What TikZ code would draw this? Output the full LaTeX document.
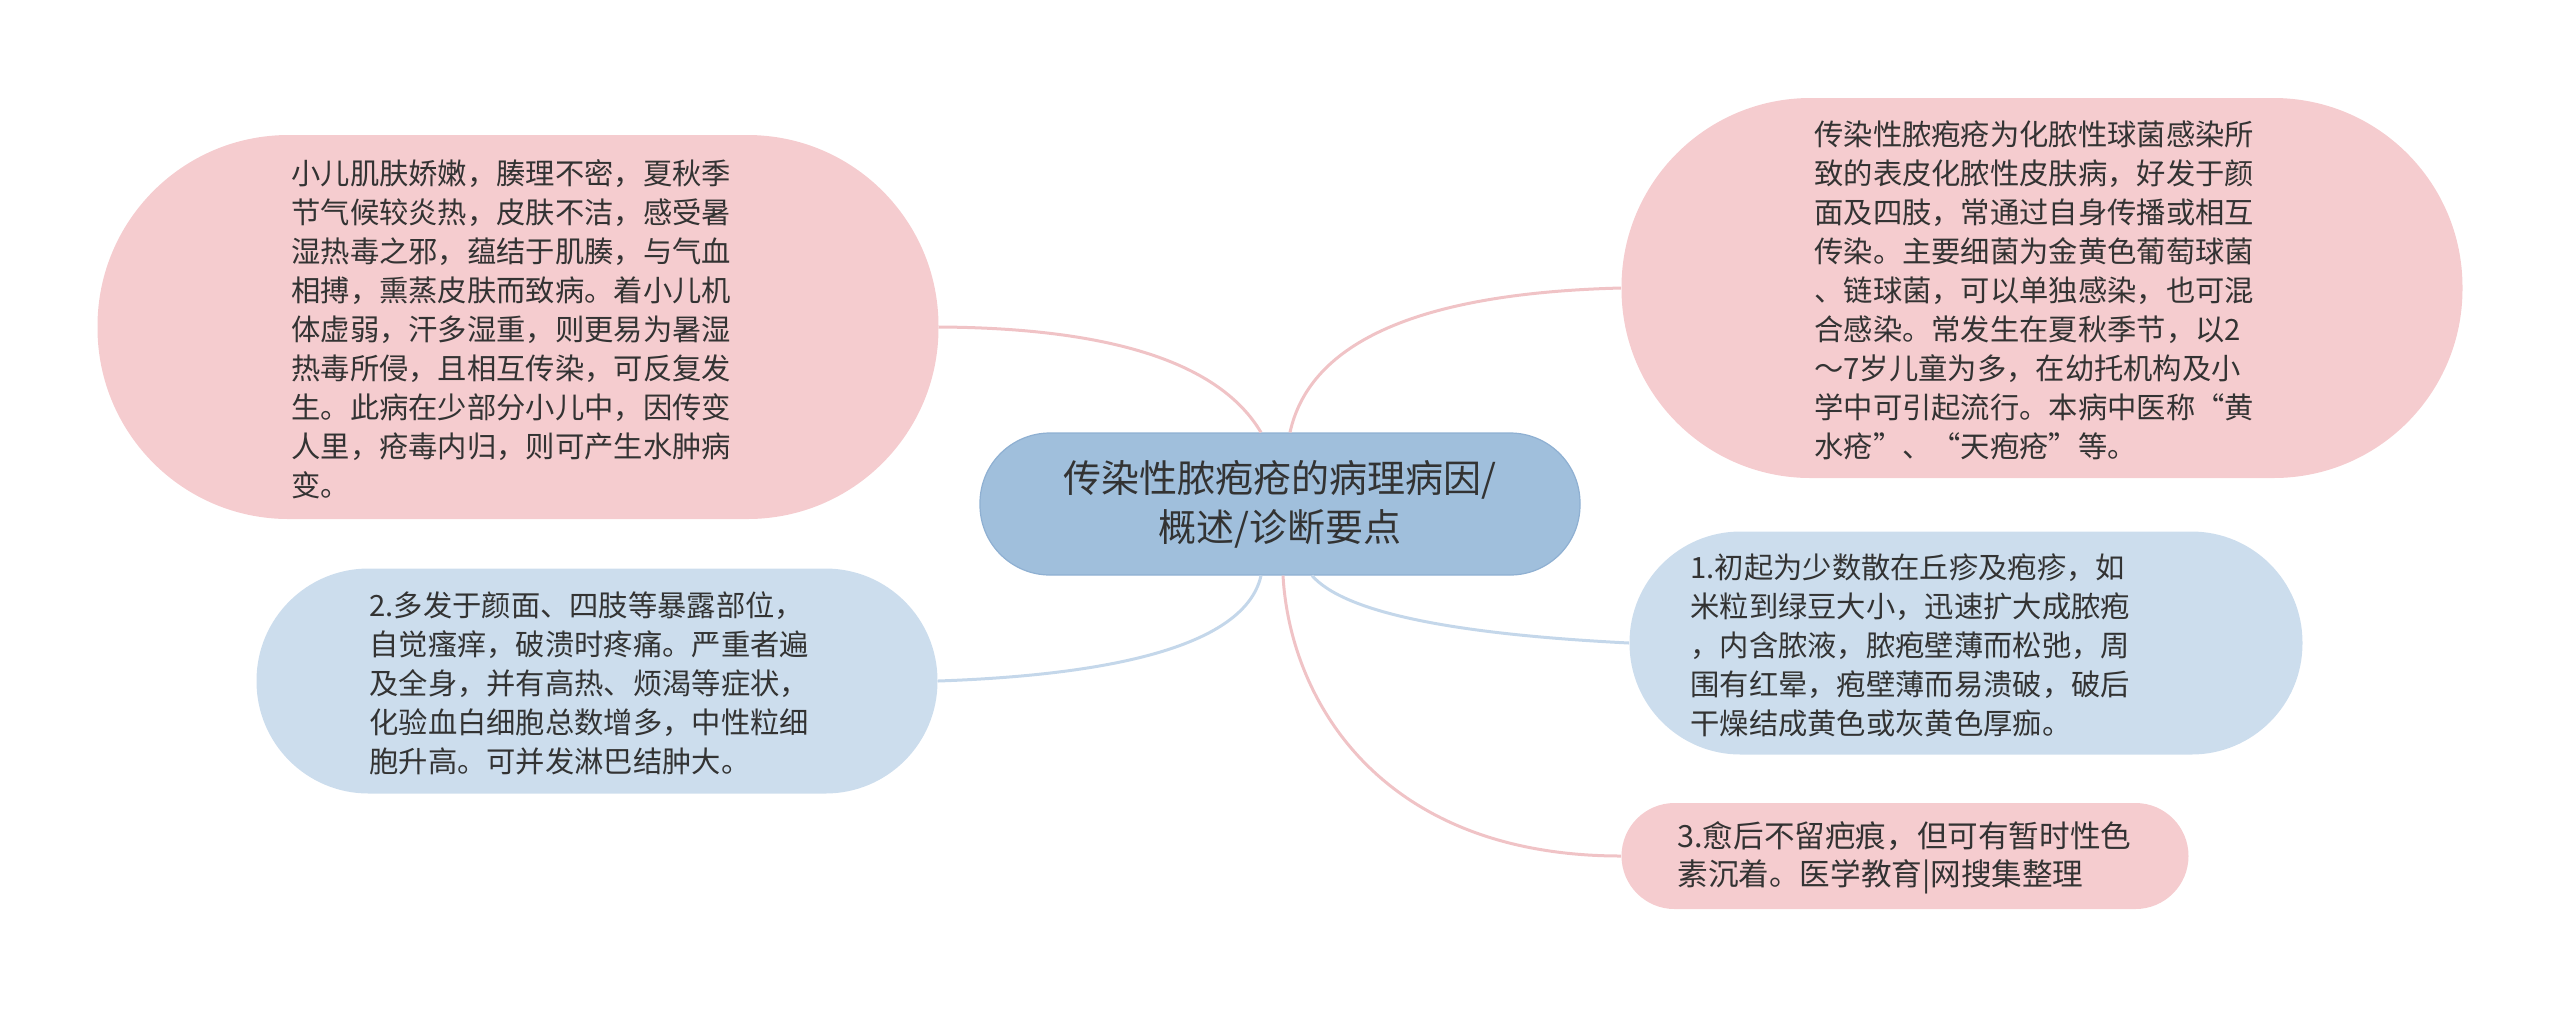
\documentclass[tikz,border=0pt]{standalone}
\usepackage{fontspec}
\setmainfont{Noto Sans CJK SC}
\definecolor{pinkfill}{HTML}{F5CCCF}
\definecolor{bluefill}{HTML}{CCDDED}
\definecolor{rootfill}{HTML}{A0BFDC}
\definecolor{rootline}{HTML}{8FB0D2}
\definecolor{pinkline}{HTML}{F0C3C6}
\definecolor{blueline}{HTML}{C4D7EA}
\definecolor{txt}{HTML}{333333}
\begin{document}
\begin{tikzpicture}[x=0.5pt,y=-0.5pt,
  box/.style={rectangle,inner sep=0pt},
  pinkbox/.style={box,fill=pinkfill},
  bluebox/.style={box,fill=bluefill},
  body/.style={inner sep=0pt,anchor=west,align=left,text=txt,
    font=\fontsize{14.65pt}{19.5pt}\selectfont},
  pinkconn/.style={draw=pinkline,line width=1.5pt},
  blueconn/.style={draw=blueline,line width=1.5pt}]
\useasboundingbox (0,0) rectangle (2560,1009);
% root
\node[box,fill=rootfill,draw=rootline,line width=0.6pt,minimum width=300pt,minimum height=71pt,
  rounded corners=35pt,align=center,text=txt,font=\fontsize{19pt}{24.5pt}\selectfont]
  (c) at (1280,504) {传染性脓疱疮的病理病因/\\概述/诊断要点};
% top-left
\node[pinkbox,minimum width=420.5pt,minimum height=192pt,rounded corners=95.5pt] (tl) at (518,327) {};
\node[body] (tlt) at (291,329) {小儿肌肤娇嫩，腠理不密，夏秋季\\节气候较炎热，皮肤不洁，感受暑\\湿热毒之邪，蕴结于肌腠，与气血\\相搏，熏蒸皮肤而致病。着小儿机\\体虚弱，汗多湿重，则更易为暑湿\\热毒所侵，且相互传染，可反复发\\生。此病在少部分小儿中，因传变\\人里，疮毒内归，则可产生水肿病\\变。};
% top-right
\node[pinkbox,minimum width=420.5pt,minimum height=190pt,rounded corners=94.5pt] (tr) at (2042,288) {};
\node[body] (trt) at (1814,290) {传染性脓疱疮为化脓性球菌感染所\\致的表皮化脓性皮肤病，好发于颜\\面及四肢，常通过自身传播或相互\\传染。主要细菌为金黄色葡萄球菌\\、链球菌，可以单独感染，也可混\\合感染。常发生在夏秋季节，以2\\～7岁儿童为多，在幼托机构及小\\学中可引起流行。本病中医称“黄\\水疮”、“天疱疮”等。};
% left blue
\node[bluebox,minimum width=340.5pt,minimum height=112.5pt,rounded corners=56pt] (lb) at (597,681) {};
\node[body] (lbt) at (369,683) {2.多发于颜面、四肢等暴露部位，\\自觉瘙痒，破溃时疼痛。严重者遍\\及全身，并有高热、烦渴等症状，\\化验血白细胞总数增多，中性粒细\\胞升高。可并发淋巴结肿大。};
% right blue
\node[bluebox,minimum width=336.5pt,minimum height=111.5pt,rounded corners=55.5pt] (rb) at (1966,643) {};
\node[body] (rbt) at (1690,645) {1.初起为少数散在丘疹及疱疹，如\\米粒到绿豆大小，迅速扩大成脓疱\\，内含脓液，脓疱壁薄而松弛，周\\围有红晕，疱壁薄而易溃破，破后\\干燥结成黄色或灰黄色厚痂。};
% bottom-right
\node[pinkbox,minimum width=283.5pt,minimum height=53pt,rounded corners=26.5pt] (br) at (1905,856) {};
\node[body,font=\fontsize{15.3pt}{19pt}\selectfont] (brt) at (1677,858) {3.愈后不留疤痕，但可有暂时性色\\素沉着。医学教育|网搜集整理};
% connectors
\draw[pinkconn] ([xshift=-9.5pt]c.north) .. controls (1220,363) and (1112,328) .. (tl.east);
\draw[pinkconn] ([xshift=5pt]c.north) .. controls (1310,341) and (1421,293) .. (tr.west);
\draw[blueconn] ([xshift=-9.5pt]c.south) .. controls (1247,638) and (1139,674) .. (lb.east);
\draw[blueconn] ([xshift=16pt]c.south) .. controls (1344,612) and (1450,634) .. (rb.west);
\draw[pinkconn] ([xshift=1.5pt]c.south) .. controls (1290,700) and (1380,856) .. (br.west);
\end{tikzpicture}
\end{document}
